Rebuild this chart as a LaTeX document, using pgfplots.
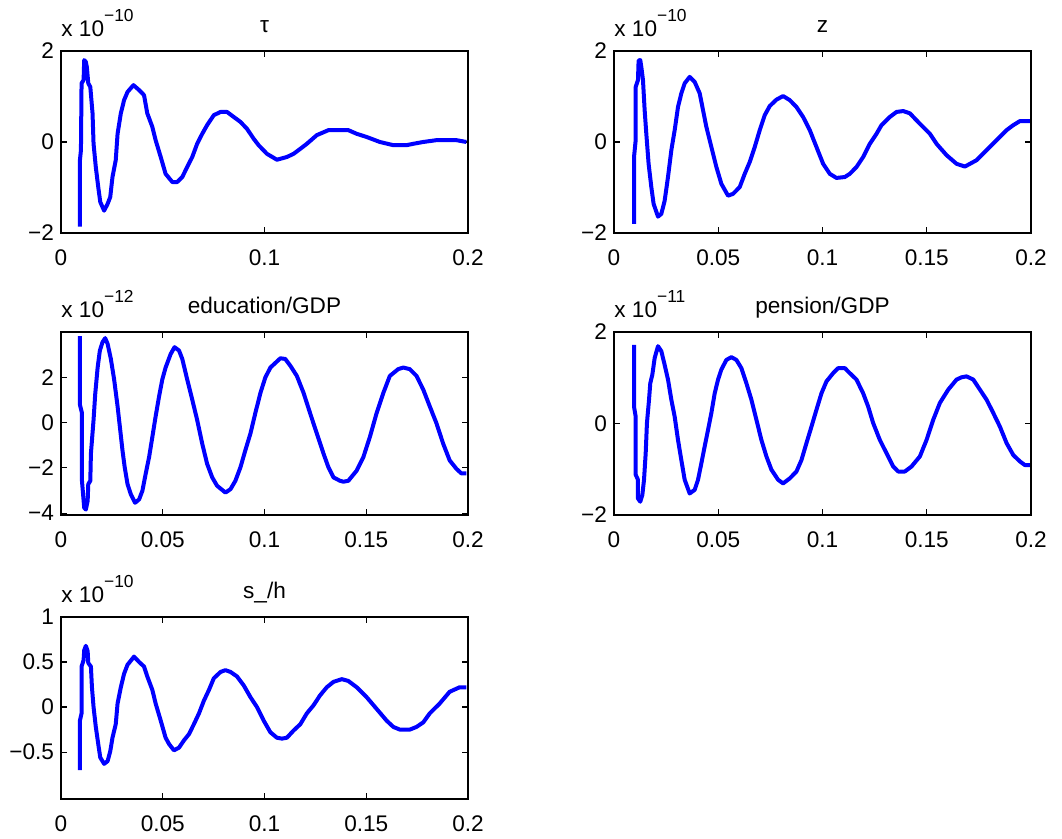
\documentclass[border=0pt]{standalone}
\usepackage{fontspec}
\setmainfont{Liberation Sans}
\usepackage{pgfplots}
\pgfplotsset{compat=1.18}

\newcommand{\mfont}{\fontsize{11.3pt}{13pt}\selectfont}
\newcommand{\expo}[1]{x 10\raisebox{7.5pt}{\fontsize{8.7pt}{9pt}\selectfont #1}}

\pgfplotsset{
  mpanel/.style={
    scale only axis,
    clip mode=individual,
    font=\mfont,
    xmin=0, xmax=0.2,
    tick align=inside,
    major tick length=3pt,
    axis line style={line width=0.65pt},
    every tick/.style={black, line width=0.6pt},
    xtick={0,0.05,0.1,0.15,0.2},
    xticklabels={0,0.05,0.1,0.15,0.2},
    every tick label/.append style={font=\mfont},
    xticklabel style={yshift=-4.7pt},
  },
  mline/.style={blue, line width=2pt, line join=round, no markers},
}

\begin{document}
\begin{tikzpicture}[font=\mfont]
\useasboundingbox (0,0) rectangle (531pt,419.5pt);

% tau
\begin{axis}[mpanel, at={(30.5pt,303pt)}, anchor=south west,
  width=203.5pt, height=91pt,
  xtick={0,0.1,0.2}, xticklabels={0,0.1,0.2},
  ymin=-2, ymax=2, ytick={-2,0,2}, yticklabels={−2,0,2}]
\addplot[mline] coordinates {
(0.0093,-1.86) (0.0093,-0.40) (0.0098,-0.18) (0.0101,1.29) (0.0111,1.36)
(0.0114,1.80) (0.0122,1.76) (0.0127,1.65) (0.0134,1.29) (0.0144,1.21)
(0.0155,0.63) (0.0160,-0.04) (0.0171,-0.55) (0.0183,-0.99) (0.0193,-1.32)
(0.0212,-1.51) (0.0229,-1.36) (0.0242,-1.21) (0.0253,-0.77) (0.0269,-0.40)
(0.0278,0.18) (0.0294,0.63) (0.0310,0.92) (0.0327,1.10) (0.0356,1.25)
(0.0384,1.14) (0.0408,1.03) (0.0424,0.63) (0.0449,0.33) (0.0465,0.04)
(0.0490,-0.33) (0.0514,-0.70) (0.0547,-0.88) (0.0571,-0.88) (0.0596,-0.77)
(0.0620,-0.55) (0.0645,-0.33) (0.0669,-0.04) (0.0694,0.18) (0.0718,0.37)
(0.0751,0.59) (0.0784,0.66) (0.0816,0.66) (0.0849,0.55) (0.0882,0.44)
(0.0914,0.29) (0.0947,0.07) (0.0971,-0.07) (0.1012,-0.26) (0.1061,-0.39)
(0.1110,-0.33) (0.1143,-0.26) (0.1176,-0.15) (0.1208,-0.04) (0.1257,0.15)
(0.1314,0.26) (0.1412,0.26) (0.1453,0.18) (0.1502,0.11) (0.1567,0.00)
(0.1633,-0.07) (0.1698,-0.07) (0.1731,-0.04) (0.1780,0.00) (0.1845,0.04)
(0.1943,0.04) (0.1992,0.00)
};
\node[anchor=base west, inner sep=0pt] at (rel axis cs:0,1) [yshift=7pt] {\expo{−10}};
\node[anchor=base, inner sep=0pt] at (rel axis cs:0.5,1) [yshift=9pt] {τ};
\end{axis}

% z
\begin{axis}[mpanel, at={(307pt,303pt)}, anchor=south west,
  width=208.5pt, height=91pt,
  ymin=-2, ymax=2, ytick={-2,0,2}, yticklabels={−2,0,2}]
\addplot[mline] coordinates {
(0.0096,-1.80) (0.0096,-0.33) (0.0104,0.04) (0.0104,1.21) (0.0115,1.36)
(0.0118,1.79) (0.0126,1.80) (0.0131,1.65) (0.0139,1.36) (0.0147,0.70)
(0.0155,0.18) (0.0166,-0.48) (0.0179,-0.99) (0.0190,-1.36) (0.0211,-1.64)
(0.0227,-1.58) (0.0243,-1.29) (0.0259,-0.77) (0.0275,-0.18) (0.0291,0.26)
(0.0307,0.77) (0.0323,1.07) (0.0339,1.29) (0.0363,1.43) (0.0387,1.32)
(0.0411,1.07) (0.0427,0.70) (0.0443,0.33) (0.0467,-0.11) (0.0491,-0.55)
(0.0515,-0.92) (0.0547,-1.18) (0.0571,-1.14) (0.0603,-0.99) (0.0627,-0.70)
(0.0651,-0.44) (0.0675,-0.11) (0.0699,0.26) (0.0723,0.59) (0.0747,0.79)
(0.0779,0.93) (0.0811,1.01) (0.0843,0.92) (0.0875,0.77) (0.0907,0.55)
(0.0939,0.26) (0.0971,-0.11) (0.1003,-0.48) (0.1035,-0.70) (0.1067,-0.79)
(0.1107,-0.77) (0.1131,-0.70) (0.1163,-0.55) (0.1195,-0.33) (0.1227,-0.04)
(0.1259,0.18) (0.1283,0.37) (0.1323,0.55) (0.1355,0.66) (0.1387,0.68)
(0.1419,0.63) (0.1467,0.40) (0.1515,0.18) (0.1547,-0.04) (0.1595,-0.29)
(0.1643,-0.48) (0.1683,-0.54) (0.1739,-0.40) (0.1787,-0.18) (0.1835,0.04)
(0.1883,0.26) (0.1915,0.37) (0.1947,0.46) (0.1995,0.46)
};
\node[anchor=base west, inner sep=0pt] at (rel axis cs:0,1) [yshift=7pt] {\expo{−10}};
\node[anchor=base, inner sep=0pt] at (rel axis cs:0.5,1) [yshift=9pt] {z};
\end{axis}

% education/GDP
\begin{axis}[mpanel, at={(30.5pt,162pt)}, anchor=south west,
  width=203.5pt, height=91.5pt,
  ymin=-4.08, ymax=4, ytick={-4,-2,0,2}, yticklabels={−4,−2,0,2}]
\addplot[mline] coordinates {
(0.0093,3.82) (0.0093,0.79) (0.0103,0.42) (0.0103,-2.57) (0.0114,-3.76)
(0.0122,-3.84) (0.0131,-3.46) (0.0134,-2.72) (0.0144,-2.57) (0.0147,-1.37)
(0.0160,0.12) (0.0168,1.24) (0.0180,2.43) (0.0191,3.18) (0.0204,3.55)
(0.0217,3.73) (0.0229,3.48) (0.0245,2.81) (0.0261,1.91) (0.0278,0.72)
(0.0291,-0.33) (0.0302,-1.22) (0.0313,-1.97) (0.0327,-2.72) (0.0343,-3.16)
(0.0364,-3.54) (0.0384,-3.39) (0.0400,-3.01) (0.0416,-2.27) (0.0433,-1.52)
(0.0449,-0.63) (0.0465,0.27) (0.0482,1.16) (0.0498,1.91) (0.0514,2.43)
(0.0539,3.03) (0.0558,3.33) (0.0580,3.18) (0.0596,2.81) (0.0620,1.91)
(0.0645,1.01) (0.0669,0.12) (0.0694,-0.93) (0.0718,-1.82) (0.0743,-2.42)
(0.0767,-2.79) (0.0808,-3.09) (0.0833,-2.94) (0.0857,-2.57) (0.0882,-1.97)
(0.0906,-1.22) (0.0931,-0.48) (0.0955,0.42) (0.0980,1.31) (0.1004,1.99)
(0.1029,2.43) (0.1078,2.84) (0.1102,2.81) (0.1127,2.51) (0.1159,2.06)
(0.1192,1.31) (0.1224,0.42) (0.1257,-0.48) (0.1290,-1.37) (0.1314,-1.97)
(0.1339,-2.42) (0.1371,-2.57) (0.1388,-2.61) (0.1412,-2.57) (0.1453,-2.12)
(0.1486,-1.52) (0.1518,-0.63) (0.1551,0.42) (0.1584,1.31) (0.1616,2.06)
(0.1657,2.36) (0.1682,2.43) (0.1714,2.36) (0.1747,2.06) (0.1780,1.46)
(0.1812,0.72) (0.1845,-0.03) (0.1878,-0.93) (0.1910,-1.67) (0.1943,-2.04)
(0.1967,-2.24) (0.1992,-2.24)
};
\node[anchor=base west, inner sep=0pt] at (rel axis cs:0,1) [yshift=7pt] {\expo{−12}};
\node[anchor=base, inner sep=0pt] at (rel axis cs:0.5,1) [yshift=9pt] {education/GDP};
\end{axis}

% pension/GDP
\begin{axis}[mpanel, at={(307pt,162pt)}, anchor=south west,
  width=208.5pt, height=91.5pt,
  ymin=-2, ymax=2, ytick={-2,0,2}, yticklabels={−2,0,2}]
\addplot[mline] coordinates {
(0.0096,1.72) (0.0096,0.37) (0.0104,0.15) (0.0104,-1.12) (0.0115,-1.23)
(0.0115,-1.64) (0.0126,-1.71) (0.0136,-1.56) (0.0144,-1.23) (0.0152,-0.65)
(0.0158,0.01) (0.0168,0.52) (0.0174,0.88) (0.0184,1.07) (0.0195,1.43)
(0.0211,1.69) (0.0227,1.58) (0.0243,1.28) (0.0259,0.96) (0.0275,0.52)
(0.0291,0.15) (0.0307,-0.36) (0.0323,-0.80) (0.0339,-1.23) (0.0363,-1.53)
(0.0387,-1.45) (0.0403,-1.23) (0.0419,-0.87) (0.0435,-0.50) (0.0451,-0.14)
(0.0467,0.23) (0.0483,0.66) (0.0499,0.96) (0.0515,1.18) (0.0539,1.39)
(0.0563,1.45) (0.0587,1.39) (0.0611,1.21) (0.0635,0.88) (0.0659,0.52)
(0.0683,0.08) (0.0707,-0.36) (0.0731,-0.72) (0.0755,-1.01) (0.0787,-1.23)
(0.0811,-1.31) (0.0843,-1.20) (0.0875,-1.05) (0.0899,-0.80) (0.0923,-0.43)
(0.0947,-0.07) (0.0971,0.30) (0.0995,0.66) (0.1019,0.92) (0.1051,1.10)
(0.1075,1.21) (0.1107,1.21) (0.1131,1.10) (0.1163,0.96) (0.1195,0.66)
(0.1219,0.37) (0.1243,0.01) (0.1275,-0.36) (0.1307,-0.65) (0.1339,-0.94)
(0.1363,-1.05) (0.1395,-1.05) (0.1427,-0.94) (0.1467,-0.72) (0.1499,-0.36)
(0.1531,0.08) (0.1563,0.45) (0.1603,0.74) (0.1643,0.96) (0.1667,1.01)
(0.1691,1.03) (0.1723,0.96) (0.1755,0.74) (0.1787,0.52) (0.1819,0.23)
(0.1851,-0.07) (0.1883,-0.43) (0.1915,-0.69) (0.1947,-0.83) (0.1971,-0.91)
(0.1995,-0.91)
};
\node[anchor=base west, inner sep=0pt] at (rel axis cs:0,1) [yshift=7pt] {\expo{−11}};
\node[anchor=base, inner sep=0pt] at (rel axis cs:0.5,1) [yshift=9pt] {pension/GDP};
\end{axis}

% s_/h
\begin{axis}[mpanel, at={(30.5pt,20pt)}, anchor=south west,
  width=203.5pt, height=91pt,
  ymin=-1.02, ymax=1, ytick={-0.5,0,0.5,1}, yticklabels={−0.5,0,0.5,1}]
\addplot[mline] coordinates {
(0.0093,-0.70) (0.0093,-0.15) (0.0101,-0.07) (0.0101,0.45) (0.0111,0.52)
(0.0114,0.63) (0.0122,0.68) (0.0131,0.62) (0.0134,0.49) (0.0147,0.45)
(0.0152,0.22) (0.0160,0.00) (0.0171,-0.22) (0.0183,-0.41) (0.0193,-0.56)
(0.0212,-0.63) (0.0229,-0.60) (0.0242,-0.49) (0.0253,-0.34) (0.0269,-0.19)
(0.0278,0.04) (0.0294,0.22) (0.0310,0.37) (0.0327,0.47) (0.0359,0.56)
(0.0384,0.50) (0.0408,0.45) (0.0424,0.34) (0.0449,0.19) (0.0465,0.04)
(0.0490,-0.15) (0.0514,-0.34) (0.0531,-0.41) (0.0555,-0.48) (0.0580,-0.45)
(0.0604,-0.37) (0.0629,-0.30) (0.0653,-0.19) (0.0678,-0.07) (0.0702,0.07)
(0.0727,0.19) (0.0751,0.32) (0.0784,0.39) (0.0808,0.41) (0.0833,0.39)
(0.0865,0.34) (0.0898,0.24) (0.0931,0.11) (0.0963,0.00) (0.0996,-0.15)
(0.1029,-0.28) (0.1061,-0.34) (0.1086,-0.35) (0.1110,-0.34) (0.1143,-0.26)
(0.1176,-0.19) (0.1208,-0.07) (0.1241,0.02) (0.1273,0.13) (0.1306,0.22)
(0.1339,0.28) (0.1380,0.31) (0.1412,0.29) (0.1453,0.22) (0.1502,0.11)
(0.1551,-0.02) (0.1600,-0.15) (0.1633,-0.22) (0.1665,-0.25) (0.1714,-0.25)
(0.1747,-0.22) (0.1780,-0.17) (0.1812,-0.07) (0.1861,0.04) (0.1910,0.17)
(0.1959,0.22) (0.1992,0.22)
};
\node[anchor=base west, inner sep=0pt] at (rel axis cs:0,1) [yshift=7pt] {\expo{−10}};
\node[anchor=base, inner sep=0pt] at (rel axis cs:0.5,1) [yshift=9pt] {s\_/h};
\end{axis}
\end{tikzpicture}
\end{document}
